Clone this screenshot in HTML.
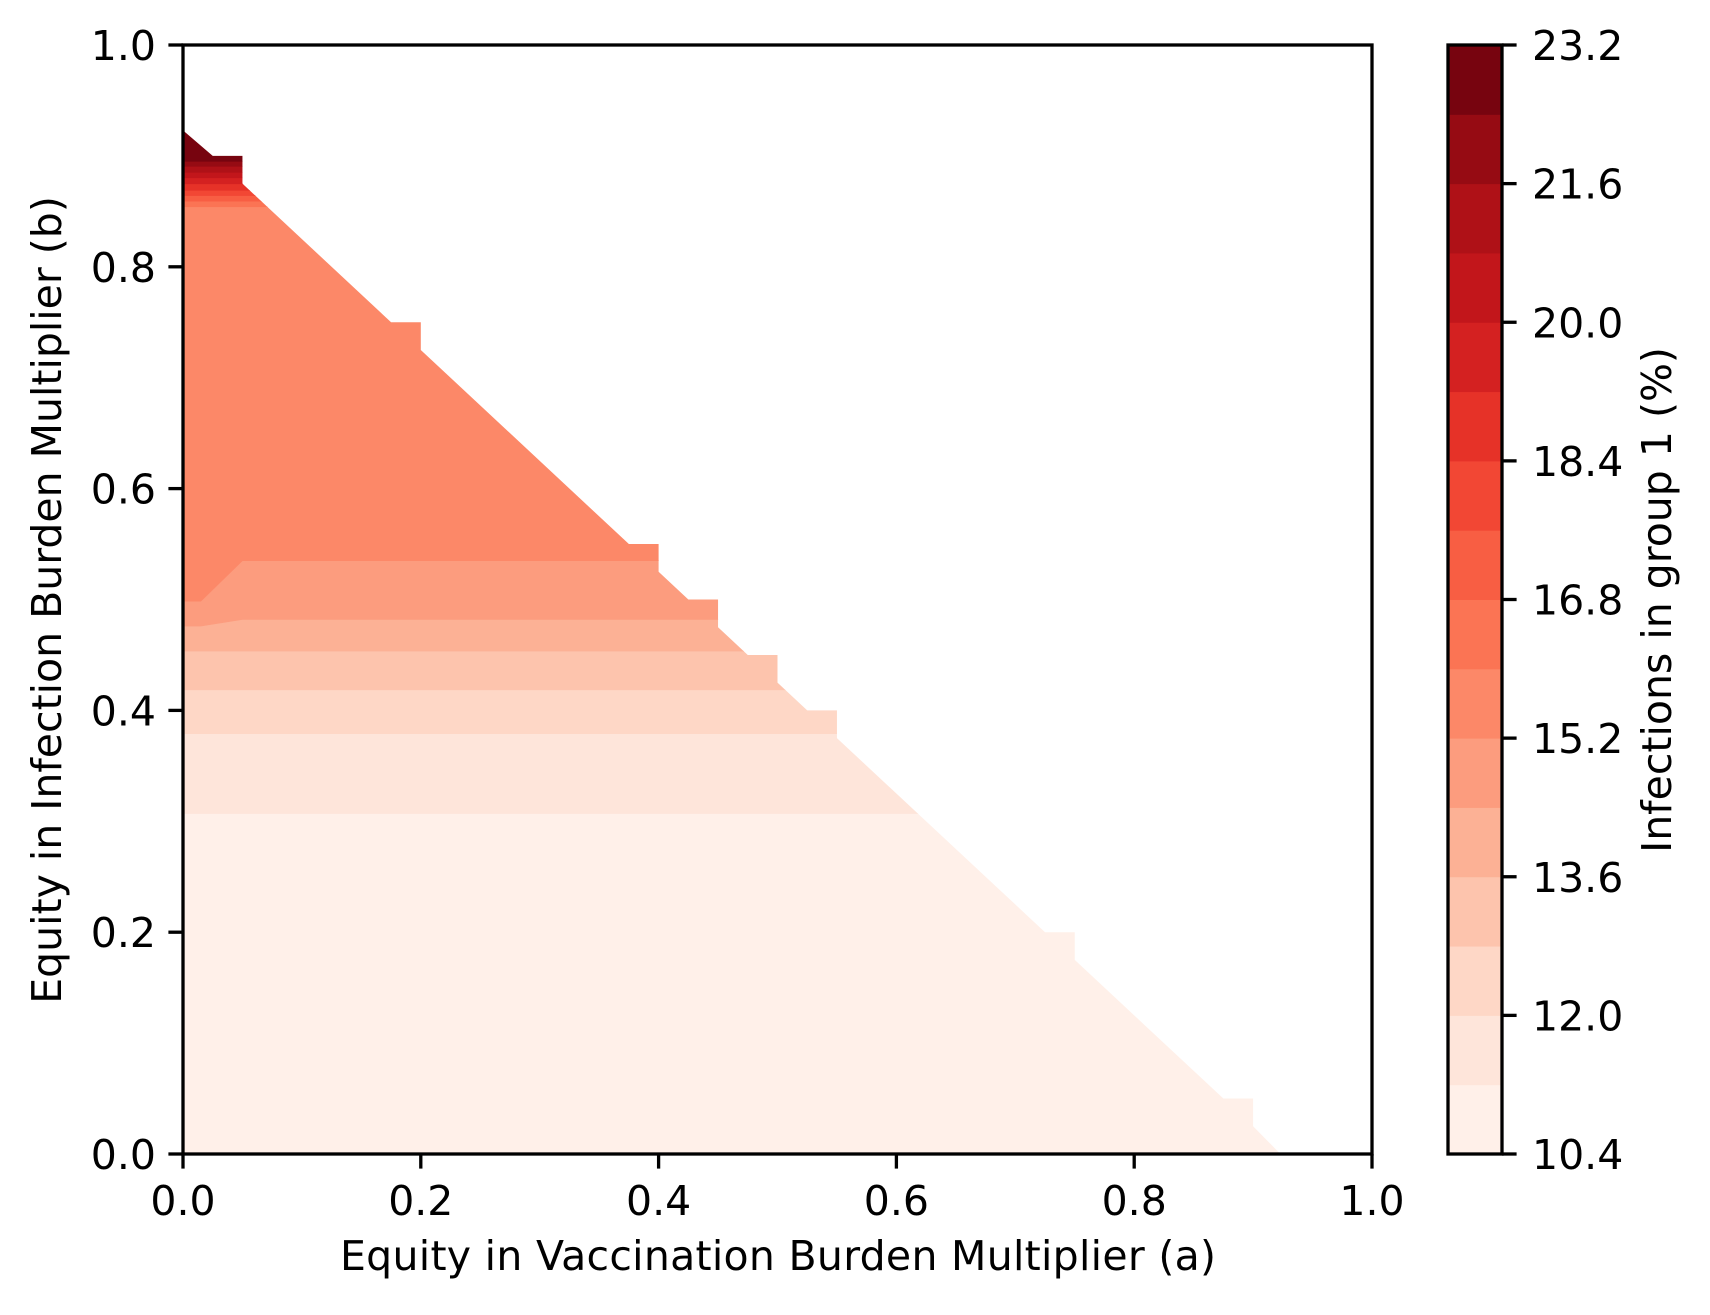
<!DOCTYPE html>
<html><head><meta charset="utf-8"><style>
html,body{margin:0;padding:0;background:#fff;}
svg text{font-family:"DejaVu Sans","Liberation Sans",sans-serif;font-size:41px;fill:#000;}
</style></head><body>
<svg id="chart" width="1710" height="1310" viewBox="0 0 1710 1310" xmlns="http://www.w3.org/2000/svg">
<defs><clipPath id="regionClip"><polygon id="regionPoly"></polygon></clipPath></defs>
<g id="bands" clip-path="url(#regionClip)"></g>
<g id="axes"></g>
<g id="cbar"></g>
<text x="778" y="1270" text-anchor="middle" textLength="876">Equity in Vaccination Burden Multiplier (a)</text>
<text transform="translate(61,600) rotate(-90)" text-anchor="middle">Equity in Infection Burden Multiplier (b)</text>
<text transform="translate(1671,600) rotate(-90)" text-anchor="middle">Infections in group 1 (%)</text>
</svg>
<script>
const levels = [10.4,11.2,12.0,12.8,13.6,14.4,15.2,16.0,16.8,17.6,18.4,19.2,20.0,20.8,21.6,22.4,23.2];
const edgeLeftB = [0.307,0.379,0.4185,0.4535,0.476,0.4985,0.8541,0.8591,0.8642,0.8690,0.8748,0.8802,0.8852,0.8906,0.8951];
const edgeRightB = [0.307,0.379,0.4185,0.4535,0.482,0.535,0.8541,0.8591,0.8642,0.8690,0.8748,0.8802,0.8852,0.8906,0.8951];
const validRegionA = [0,0.025,0.05,0.05,0.175,0.2,0.2,0.375,0.4,0.4,0.425,0.45,0.45,0.475,0.5,0.5,0.525,0.55,0.55,0.725,0.75,0.75,0.875,0.9,0.9,0.923,0];
const validRegionB = [0.923,0.9,0.9,0.875,0.75,0.75,0.725,0.55,0.55,0.525,0.5,0.5,0.475,0.45,0.45,0.425,0.4,0.4,0.375,0.2,0.2,0.175,0.05,0.05,0.025,0,0];
const xTicks = [0,0.2,0.4,0.6,0.8,1.0];
const yTicks = [0,0.2,0.4,0.6,0.8,1.0];
const cbarTicks = [10.4,12.0,13.6,15.2,16.8,18.4,20.0,21.6,23.2];

const NS="http://www.w3.org/2000/svg";
const X0=183,X1=1372,Y0=1154,Y1=45;
const sx=a=>X0+a*(X1-X0), sy=b=>Y0-b*(Y0-Y1);
const CB={x0:1448,x1:1502};
const sc=v=>Y0-(v-levels[0])/(levels[levels.length-1]-levels[0])*(Y0-Y1);
function mk(t,attrs,parent){const e=document.createElementNS(NS,t);for(const k in attrs)e.setAttribute(k,attrs[k]);parent.appendChild(e);return e;}
const stops=[[0,[255,245,240]],[.125,[254,224,210]],[.25,[252,187,161]],[.375,[252,146,114]],[.5,[251,106,74]],[.625,[239,59,44]],[.75,[203,24,29]],[.875,[165,15,21]],[1,[103,0,13]]];
function reds(t){for(let i=0;i<stops.length-1;i++){const[a,ca]=stops[i],[b,cb]=stops[i+1];if(t<=b){const f=(t-a)/(b-a);return 'rgb('+ca.map((c,j)=>Math.round(c+(cb[j]-c)*f)).join(',')+')';}}return 'rgb(103,0,13)';}
const nb=levels.length-1;
const col=i=>reds((i+0.5)/nb);

document.getElementById('regionPoly').setAttribute('points',validRegionA.map((a,i)=>sx(a)+','+sy(validRegionB[i])).join(' '));
const bands=document.getElementById('bands');
function edgePts(i){
  if(i<0) return [[0,0],[1,0]];
  if(i>=edgeLeftB.length) return [[0,1],[1,1]];
  return [[0,edgeLeftB[i]],[0.015,edgeLeftB[i]],[0.05,edgeRightB[i]],[1,edgeRightB[i]]];
}
for(let i=0;i<nb;i++){
  const lo=edgePts(i-1), hi=edgePts(i).slice().reverse();
  const pts=lo.concat(hi).map(p=>sx(p[0])+','+sy(p[1])).join(' ');
  const p=mk('polygon',{points:pts,fill:col(i),stroke:col(i),'stroke-width':0.6},bands);
  
  
}
const ax=document.getElementById('axes');
const frame=mk('rect',{x:X0,y:Y1,width:X1-X0,height:Y0-Y1,fill:'none',stroke:'#000','stroke-width':3.3},ax);


xTicks.forEach(v=>{
  const l=mk('line',{x1:sx(v),x2:sx(v),y1:Y0,y2:Y0+14.6,stroke:'#000','stroke-width':3.3},ax);
  
  
  const t=mk('text',{x:sx(v),y:Y0+61,'text-anchor':'middle'},ax);t.textContent=v.toFixed(1);
  
  
});
yTicks.forEach(v=>{
  const l=mk('line',{x1:X0-14.6,x2:X0,y1:sy(v),y2:sy(v),stroke:'#000','stroke-width':3.3},ax);
  
  
  const t=mk('text',{x:X0-27,y:sy(v)+15,'text-anchor':'end'},ax);t.textContent=v.toFixed(1);
  
  
});
const cb=document.getElementById('cbar');
for(let i=0;i<nb;i++){
  const r=mk('rect',{x:CB.x0,y:sc(levels[i+1]),width:CB.x1-CB.x0,height:sc(levels[i])-sc(levels[i+1])+0.5,fill:col(i)},cb);
  
  
}
const cf=mk('rect',{x:CB.x0,y:Y1,width:CB.x1-CB.x0,height:Y0-Y1,fill:'none',stroke:'#000','stroke-width':3.3},cb);


cbarTicks.forEach(v=>{
  const l=mk('line',{x1:CB.x1,x2:CB.x1+14.6,y1:sc(v),y2:sc(v),stroke:'#000','stroke-width':3.3},cb);
  
  
  const t=mk('text',{x:CB.x1+30,y:sc(v)+15,'text-anchor':'start'},cb);t.textContent=v.toFixed(1);
  
  
});
</script>
</body></html>
